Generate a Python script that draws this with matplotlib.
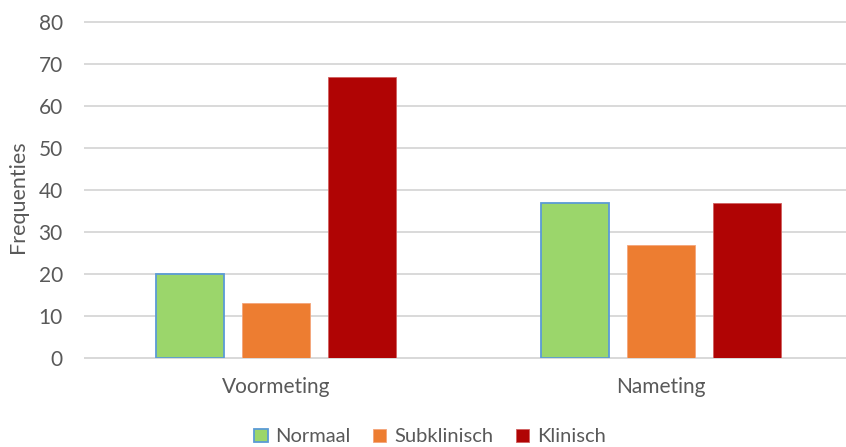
import matplotlib.pyplot as plt
import numpy as np

categories = ["Voormeting", "Nameting"]
series = ["Normaal", "Subklinisch", "Klinisch"]
normaal = [20, 37]
subklinisch = [13, 27]
klinisch = [67, 37]

colors = ["#9bd66b", "#ed7d31", "#b00404"]
edges = ["#5b9bd5", "#f4a57a", "#d06060"]

plt.rcParams['font.family'] = ['Lato', 'DejaVu Sans']

fig = plt.figure(figsize=(8.46, 4.47), dpi=100)
ax = fig.add_axes([85 / 846, (447 - 358) / 447, 1 - 85 / 846, (358 - 22) / 447])

x = np.arange(len(categories))
width = 0.177
offset = 0.2234
for i, (vals, name) in enumerate(zip([normaal, subklinisch, klinisch], series)):
    ax.bar(x + (i - 1) * offset, vals, width, color=colors[i],
           edgecolor=edges[i], linewidth=1.3 if i == 0 else 0.6, label=name, zorder=3)

ax.set_ylim(0, 80)
ax.set_xlim(-0.496, 1.4805)
ax.set_yticks(range(0, 81, 10))
ax.set_xticks(x)
ax.set_xticklabels(categories)
ax.grid(axis='y', color='#d9d9d9', linewidth=1.4, zorder=0)
for line in ax.get_ygridlines():
    line.set_clip_on(False)
for s in ['top', 'right', 'left']:
    ax.spines[s].set_visible(False)
ax.spines['bottom'].set_color('#d9d9d9')
ax.spines['bottom'].set_linewidth(1.4)
ax.tick_params(axis='both', length=0, labelsize=15, colors='#595959')
ax.tick_params(axis='y', pad=16)
ax.tick_params(axis='x', pad=14)

# y label placed at fixed pixel position like the reference
fig.text(18 / 846, 1 - 197 / 447, "Frequenties", rotation=90, fontsize=15.5,
         color='#595959', ha='center', va='center')

fig.legend(loc='center', bbox_to_anchor=(430 / 846, 1 - 437 / 447), ncol=3,
           frameon=False, fontsize=14.5, labelcolor='#595959', handlelength=0.65,
           handleheight=0.65, handletextpad=0.4, columnspacing=1.1)

fig.savefig("out.png", dpi=100)
